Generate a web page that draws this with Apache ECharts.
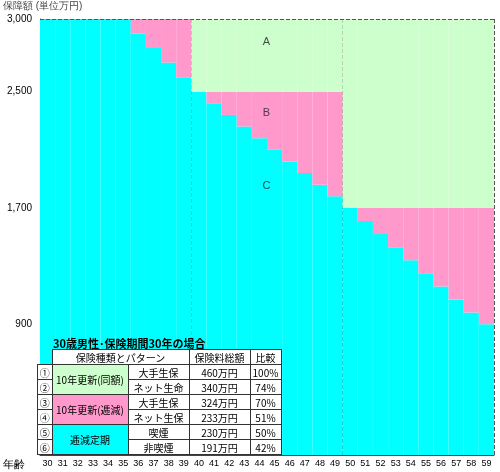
<!DOCTYPE html>
<html lang="ja">
<head>
<meta charset="UTF-8">
<title>保障額</title>
<script src="https://cdn.jsdelivr.net/npm/echarts@6/dist/echarts.min.js"></script>
<style>
    body{margin:0;background:#fff;font-family:"Noto Sans CJK JP",sans-serif;}
    #chart{width:500px;height:472px;}
    /*表*/
    #title{position:absolute;left:53px;top:335px;font-size:11px;font-weight:bold;}
    #tbl{position:absolute;left:37px;top:349px;border-collapse:collapse;font-size:10px;}
    #tbl td{border:1px solid #333;height:14px;padding:0;text-align:center;background:#fff;line-height:13px;}
    #tbl td.g{background:#ccffcc;}
    #tbl td.p{background:#ff99cc;}
    #tbl td.c{background:#00ffff;}
    #tbl td.n{border:none;background:transparent;}
</style>
</head>
<body>
<div id="chart"></div>
<div id="title">30歳男性･保険期間30年の場合</div>
<table id="tbl">
    <tr><td class="n" style="width:14px"></td><td colspan="2" style="width:136px">保険種類とパターン</td><td style="width:60px">保険料総額</td><td style="width:30px">比較</td></tr>
    <tr><td>①</td><td class="g" rowspan="2" style="width:75px">10年更新(同額)</td><td>大手生保</td><td>460万円</td><td>100%</td></tr>
    <tr><td>②</td><td>ネット生命</td><td>340万円</td><td>74%</td></tr>
    <tr><td>③</td><td class="p" rowspan="2">10年更新(逓減)</td><td>大手生保</td><td>324万円</td><td>70%</td></tr>
    <tr><td>④</td><td>ネット生保</td><td>233万円</td><td>51%</td></tr>
    <tr><td>⑤</td><td class="c" rowspan="2">逓減定期</td><td>喫煙</td><td>230万円</td><td>50%</td></tr>
    <tr><td>⑥</td><td>非喫煙</td><td>191万円</td><td>42%</td></tr>
</table>
<script type="text/javascript">
    // 年齢
    var ages = [30,31,32,33,34,35,36,37,38,39,40,41,42,43,44,45,46,47,48,49,50,51,52,53,54,55,56,57,58,59];
    // 逓減定期(C)
    var decreasing = [3000,3000,3000,3000,3000,3000,2900,2800,2700,2600,
        2500,2420,2340,2260,2180,2100,2020,1940,1860,1780,
        1700,1610,1520,1430,1340,1250,1160,1070,980,900];
    // 10年更新(逓減)の上端
    var bandTop = [3000,3000,3000,3000,3000,3000,3000,3000,3000,3000,
        2500,2500,2500,2500,2500,2500,2500,2500,2500,2500,
        1700,1700,1700,1700,1700,1700,1700,1700,1700,1700];
    var maxAmount = 3000;
    var yTicks = [900, 1700, 2500, 3000];

    var pink = bandTop.map(function (t, i) { return t - decreasing[i]; });
    var green = bandTop.map(function (t) { return maxAmount - t; });

    var chart = echarts.init(document.getElementById('chart'));
    chart.setOption({
        animation: false,
        grid: {left: 37, right: 6, top: 19, bottom: 17},
        graphic: [{type: 'text', left: 3, bottom: 2, style: {text: '年齢', fontSize: 11, fill: '#000'}}],
        xAxis: {
            type: 'category',
            data: ages,
            axisTick: {show: false},
            axisLine: {lineStyle: {color: '#444'}},
            axisLabel: {color: '#000', fontSize: 9, interval: 0, margin: 4},
            splitLine: {
                show: true,
                interval: function (i) { return i === 10 || i === 20 || i === 30; },
                lineStyle: {color: '#555', type: 'dashed', width: 1}
            }
        },
        yAxis: {
            type: 'value', min: 0, max: maxAmount,
            axisTick: {show: false},
            axisLine: {show: true, lineStyle: {color: '#444'}},
            splitLine: {show: false},
            axisLabel: {color: '#000', fontSize: 10, customValues: yTicks,
                formatter: function (v) { return v.toLocaleString('en-US'); }},
            name: '保障額 (単位万円)', nameGap: 8,
            nameTextStyle: {fontSize: 10, align: 'left', padding: [0, 0, 0, -37]}
        },
        series: [
            {type: 'bar', stack: 'a', data: decreasing, barCategoryGap: 0, itemStyle: {color: '#00ffff'}},
            {type: 'bar', stack: 'a', data: pink, itemStyle: {color: '#ff99cc'}},
            {type: 'bar', stack: 'a', data: green, itemStyle: {color: '#ccffcc'},
                markLine: {
                    silent: true, symbol: 'none', label: {show: false},
                    lineStyle: {color: '#555', type: 'dashed', width: 1},
                    data: [{yAxis: maxAmount}]
                }},
            {
                type: 'scatter', symbolSize: 0, silent: true,
                data: [['44', 2840, 'A'], ['44', 2350, 'B'], ['44', 1850, 'C']],
                label: {show: true, position: 'inside', formatter: function (p) { return p.data[2]; },
                    color: '#222', fontSize: 11, offset: [7, 0]}
            }
        ]
    });
</script>
</body>
</html>
